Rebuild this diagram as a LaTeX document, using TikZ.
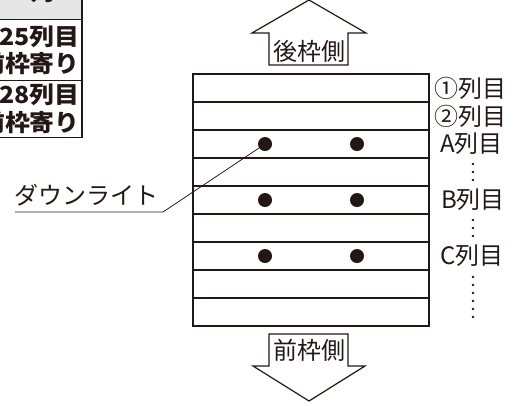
\documentclass[tikz,border=0pt]{standalone}
\usepackage{graphicx}
\usepackage{fontspec}
\setmainfont{Noto Sans CJK JP}
\definecolor{ink}{RGB}{35,24,21}
\definecolor{hdr}{RGB}{230,230,230}
\newcommand{\widetext}[1]{\scalebox{1.06}[1]{#1}}
\tikzset{
  lbl/.style={inner sep=0pt, text=ink, font=\fontsize{24}{24}\selectfont},
  tbl/.style={inner sep=0pt, text=ink, font=\fontsize{23.5}{23.5}\selectfont\bfseries},
  arrlbl/.style={inner sep=0pt, text=ink, font=\fontsize{24}{24}\selectfont},
  rowline/.style={draw=ink, line width=1.8pt},
  frame/.style={draw=ink, line width=1.3pt},
  arrowshape/.style={draw=ink, line width=1.2pt, fill=white},
  tline/.style={draw=ink, line width=0.9pt},
  dot/.style={circle, fill=ink, minimum size=14pt, inner sep=0pt},
  leader/.style={draw=ink, line width=0.8pt},
  vdot/.style={circle, fill=ink, minimum size=2.6pt, inner sep=0pt}
}
\begin{document}
\begin{tikzpicture}[x=1pt,y=-1pt]
\useasboundingbox (0,0) rectangle (518,405);
\begin{scope}
\clip (0,0) rectangle (518,405);
% table (partly cut off)
\fill[hdr] (-10,-10) rectangle (82,19.5);
\node[tbl, anchor=base] (th) at (42,0) {\widetext{列}};
\draw[tline] (-10,19.5) -- (82,19.5);
\draw[tline] (-10,80) -- (82,80);
\draw[tline] (-10,137) -- (82,137);
\draw[frame] (82,-10) -- (82,137.6);
\node[tbl, anchor=east] (t1) at (80,37) {\widetext{25列目}};
\node[tbl, anchor=east] (t2) at (80,63.5) {\widetext{前枠寄り}};
\node[tbl, anchor=east] (t3) at (80,95) {\widetext{28列目}};
\node[tbl, anchor=east] (t4) at (80,123) {\widetext{前枠寄り}};
% top arrow
\draw[arrowshape] (269,65) -- (269,33) -- (252,33) -- (309,0) -- (366,33) -- (348,33) -- (348,65) -- cycle;
\node[arrlbl] (back) at (309,51.5) {後枠側};
% bottom arrow
\draw[arrowshape] (269,334) -- (348,334) -- (348,366) -- (365,366) -- (309,401) -- (253,366) -- (269,366) -- cycle;
\node[arrlbl] (front) at (309,350) {前枠側};
% rows
\foreach \y in {102,130,158,186,214,242,270,298} {
  \draw[rowline] (193,\y) -- (429,\y);
}
\draw[frame] (193,74) rectangle (429,326);
% dots
\node[dot] (dA1) at (265,144) {};
\node[dot] (dA2) at (357,144) {};
\node[dot] (dB1) at (265,200) {};
\node[dot] (dB2) at (357,200) {};
\node[dot] (dC1) at (265,256) {};
\node[dot] (dC2) at (357,256) {};
% labels right
\node[lbl, anchor=west] (r1) at (434,88) {①列目};
\node[lbl, anchor=west] (r2) at (434,116) {②列目};
\node[lbl, anchor=west] (rA) at (440,144) {A列目};
\node[lbl, anchor=west] (rB) at (441,200) {B列目};
\node[lbl, anchor=west] (rC) at (440,256) {C列目};
\foreach \y in {164,172,180,220,228,236,277,285,293,301,309,317} {
  \node[vdot] at (473,\y) {};
}
% downlight leader
\node[lbl, anchor=west] (dl) at (14,195.5) {ダウンライト};
\coordinate (ul) at (15,212);
\coordinate (kink) at (163,212);
\draw[leader] (ul) -- (kink) -- (dA1);
\end{scope}
\end{tikzpicture}
\end{document}
